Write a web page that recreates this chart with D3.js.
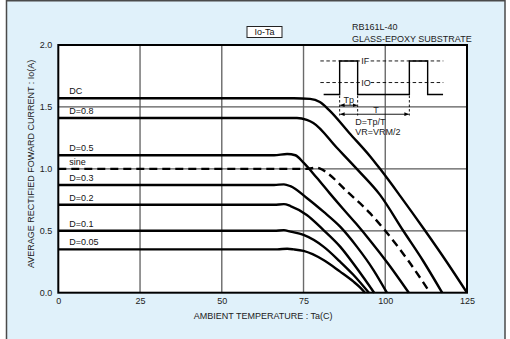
<!DOCTYPE html>
<html>
<head>
<meta charset="utf-8">
<script src="https://cdn.jsdelivr.net/npm/d3@7"></script>
<style>
  html, body { margin: 0; padding: 0; background: #ffffff; }
  svg { display: block; font-family: "Liberation Sans", Arial, sans-serif; }
</style>
</head>
<body>
<svg id="chart" width="510" height="339"></svg>
<script>
// Derating curves: average rectified forward current Io(A) vs ambient temperature Ta(C)
const curveDC = [[0,1.57],[72,1.57],[77,1.565],[80,1.54],[83,1.47],[89,1.29],[95.4,1.10],[98.4,1.0],[104.6,0.78],[112.2,0.5],[118.5,0.26],[125,0]];
const curveD08 = [[0,1.41],[73,1.41],[76,1.395],[78,1.37],[85.2,1.17],[92,0.98],[98.4,0.79],[105.5,0.5],[111.5,0.26],[117.4,0]];
const curveSine = [[0,1.0],[76,1.0],[79,1.01],[81,0.99],[82.6,0.96],[88.2,0.82],[95.4,0.64],[100,0.5],[107,0.26],[113.7,0]];
const curveD05 = [[0,1.11],[66,1.11],[70,1.12],[72.5,1.11],[75,1.05],[79,0.93],[83.1,0.80],[87,0.68],[91,0.56],[95.4,0.42],[101,0.23],[107.2,0]];
const curveD03 = [[0,0.87],[66,0.87],[69,0.875],[71,0.86],[76,0.765],[81.1,0.654],[86.2,0.533],[91.3,0.372],[96.4,0.183],[100.5,0]];
const curveD02 = [[0,0.71],[66,0.71],[69,0.715],[71,0.70],[76,0.628],[81.1,0.506],[86.2,0.372],[91.3,0.197],[96.6,0]];
const curveD01 = [[0,0.50],[66,0.50],[69,0.505],[71,0.493],[75,0.466],[81.1,0.372],[86.2,0.25],[90.3,0.143],[95,0]];
const curveD005 = [[0,0.35],[67,0.35],[70,0.355],[72,0.35],[75,0.337],[81.1,0.264],[86.2,0.17],[90.3,0.089],[92.2,0.045],[93.8,0]];

const seriesNames = ["DC","D=0.8","D=0.5","sine","D=0.3","D=0.2","D=0.1","D=0.05"];
const seriesData = [curveDC, curveD08, curveD05, curveSine, curveD03, curveD02, curveD01, curveD005];
const seriesDashed = [false, false, false, true, false, false, false, false];

const xTicks = [0, 25, 50, 75, 100, 125];
const yTicks = [0.0, 0.5, 1.0, 1.5, 2.0];
const yGrid = [0.5, 1.0, 1.5];
const xGrid = [25, 50, 75, 100];

const chartTitle = "Io-Ta";
const deviceLines = ["RB161L-40", "GLASS-EPOXY SUBSTRATE"];
const xTitle = "AMBIENT TEMPERATURE : Ta(C)";
const yTitle = "AVERAGE RECTIFIED FOWARD CURRENT : Io(A)";

const svg = d3.select("#chart");

// outer panel
svg.append("rect")
  .attr("x", 6.5).attr("y", 0.75).attr("width", 498.5).attr("height", 350)
  .attr("fill", "#e0f1fa").attr("stroke", "#4a4a4a").attr("stroke-width", 1.5);

const x = d3.scaleLinear().domain([0, 125]).range([58.3, 467]);
const y = d3.scaleLinear().domain([0, 2]).range([292.7, 45]);

// plot background
svg.append("rect")
  .attr("x", x(0)).attr("y", y(2))
  .attr("width", x(125) - x(0)).attr("height", y(0) - y(2))
  .attr("fill", "#ffffff");

// grid
svg.append("g").selectAll("line").data(xGrid).join("line")
  .attr("x1", d => x(d)).attr("x2", d => x(d))
  .attr("y1", y(2)).attr("y2", y(0))
  .attr("stroke", "#6a6a6a").attr("stroke-width", 1.4);
svg.append("g").selectAll("line").data(yGrid).join("line")
  .attr("x1", x(0)).attr("x2", x(125))
  .attr("y1", d => y(d)).attr("y2", d => y(d))
  .attr("stroke", "#5a5a5a").attr("stroke-width", 1.3);

// axes (labels only, ticks hidden)
const xAxis = d3.axisBottom(x).tickValues(xTicks).tickSize(0).tickPadding(5).tickFormat(d3.format("d"));
const gx = svg.append("g").attr("transform", `translate(0,${y(0)})`).call(xAxis);
gx.select(".domain").remove();
gx.selectAll("text").attr("font-size", 9).attr("fill", "#222").attr("font-family", "Liberation Sans, Arial, sans-serif");

const yAxis = d3.axisLeft(y).tickValues(yTicks).tickSize(0).tickPadding(6).tickFormat(d3.format(".1f"));
const gy = svg.append("g").attr("transform", `translate(${x(0)},0)`).call(yAxis);
gy.select(".domain").remove();
gy.selectAll("text").attr("font-size", 9).attr("fill", "#222").attr("font-family", "Liberation Sans, Arial, sans-serif");

// axis titles
svg.append("text")
  .attr("x", (x(0) + x(125)) / 2 + 0.5).attr("y", 319)
  .attr("text-anchor", "middle").attr("font-size", 9).attr("fill", "#222")
  .text(xTitle);
svg.append("text")
  .attr("transform", `translate(34,${(y(0) + y(2)) / 2 - 5}) rotate(-90)`)
  .attr("text-anchor", "middle").attr("font-size", 9).attr("fill", "#222")
  .text(yTitle);

// curves
const line = d3.line().x(d => x(d[0])).y(d => y(d[1])).curve(d3.curveMonotoneX);
const curves = svg.append("g");
seriesData.forEach((data, i) => {
  curves.append("path")
    .attr("d", line(data))
    .attr("fill", "none")
    .attr("stroke", "#000")
    .attr("stroke-width", 2.4)
    .attr("stroke-dasharray", seriesDashed[i] ? "8,5" : null);
  curves.append("text")
    .attr("x", x(0) + 11).attr("y", y(data[0][1]) - 4)
    .attr("font-size", 9).attr("fill", "#111")
    .text(seriesNames[i]);
});

// plot border
svg.append("rect")
  .attr("x", x(0)).attr("y", y(2))
  .attr("width", x(125) - x(0)).attr("height", y(0) - y(2))
  .attr("fill", "none").attr("stroke", "#000").attr("stroke-width", 2);

// title box
const tb = svg.append("g").attr("transform", "translate(247,26.5)");
tb.append("rect").attr("width", 35).attr("height", 11)
  .attr("fill", "#ffffff").attr("stroke", "#222").attr("stroke-width", 1);
tb.append("text").attr("x", 17.5).attr("y", 8.8).attr("text-anchor", "middle")
  .attr("font-size", 9).attr("fill", "#111").text(chartTitle);

// device / mounting note
svg.append("g").selectAll("text").data(deviceLines).join("text")
  .attr("x", 352).attr("y", (d, i) => 30 + i * 12)
  .attr("font-size", 9).attr("fill", "#222").text(d => d);

// pulse waveform diagram
const defs = svg.append("defs");
defs.append("marker").attr("id", "ah").attr("viewBox", "0 0 6 6")
  .attr("refX", 6).attr("refY", 3).attr("markerWidth", 5).attr("markerHeight", 5)
  .attr("orient", "auto-start-reverse")
  .append("path").attr("d", "M0,0.5 L6,3 L0,5.5 Z").attr("fill", "#000");

const w = svg.append("g").attr("transform", `translate(${x(86.05)},${y(1.6)})`);
const ifY = -33.6, ioY = -12;
const p1 = [0, 18], p2 = [69.7, 88];
const dash = "3.5,2.5";
// IF and IO reference levels
[[ifY, "IF"], [ioY, "IO"]].forEach(([ly, lab]) => {
  w.append("line").attr("x1", -19.3).attr("x2", 20.5).attr("y1", ly).attr("y2", ly)
    .attr("stroke", "#000").attr("stroke-width", 0.9).attr("stroke-dasharray", dash);
  w.append("line").attr("x1", 31).attr("x2", 103.7).attr("y1", ly).attr("y2", ly)
    .attr("stroke", "#000").attr("stroke-width", 0.9).attr("stroke-dasharray", dash);
  w.append("text").attr("x", 21.5).attr("y", ly + 3.2).attr("font-size", 9).attr("fill", "#222").text(lab);
});
// pulse train
const wave = [[-16, 0], [p1[0], 0], [p1[0], ifY], [p1[1], ifY], [p1[1], 0],
              [p2[0], 0], [p2[0], ifY], [p2[1], ifY], [p2[1], 0], [103.4, 0]];
w.append("path").attr("d", d3.line()(wave))
  .attr("fill", "none").attr("stroke", "#000").attr("stroke-width", 1.4);
// period markers
[p1[0], p1[1], p2[0]].forEach(px => {
  w.append("line").attr("x1", px).attr("x2", px).attr("y1", 1).attr("y2", 21)
    .attr("stroke", "#000").attr("stroke-width", 0.9).attr("stroke-dasharray", "2.5,2");
});
w.append("line").attr("x1", p1[0] + 0.5).attr("x2", p1[1] - 0.5).attr("y1", 10.7).attr("y2", 10.7)
  .attr("stroke", "#000").attr("stroke-width", 0.9)
  .attr("marker-start", "url(#ah)").attr("marker-end", "url(#ah)");
w.append("text").attr("x", 9).attr("y", 8.5).attr("text-anchor", "middle")
  .attr("font-size", 9).attr("fill", "#222").text("Tp");
w.append("line").attr("x1", p1[0] + 0.5).attr("x2", p2[0] - 0.5).attr("y1", 19.7).attr("y2", 19.7)
  .attr("stroke", "#000").attr("stroke-width", 0.9)
  .attr("marker-start", "url(#ah)").attr("marker-end", "url(#ah)");
w.append("text").attr("x", 36.4).attr("y", 18.5).attr("text-anchor", "middle")
  .attr("font-size", 9).attr("fill", "#222").text("T");
w.append("text").attr("x", 15.7).attr("y", 30.6).attr("font-size", 9).attr("fill", "#222").text("D=Tp/T");
w.append("text").attr("x", 15.7).attr("y", 40.6).attr("font-size", 9).attr("fill", "#222").text("VR=VRM/2");
</script>
</body>
</html>
